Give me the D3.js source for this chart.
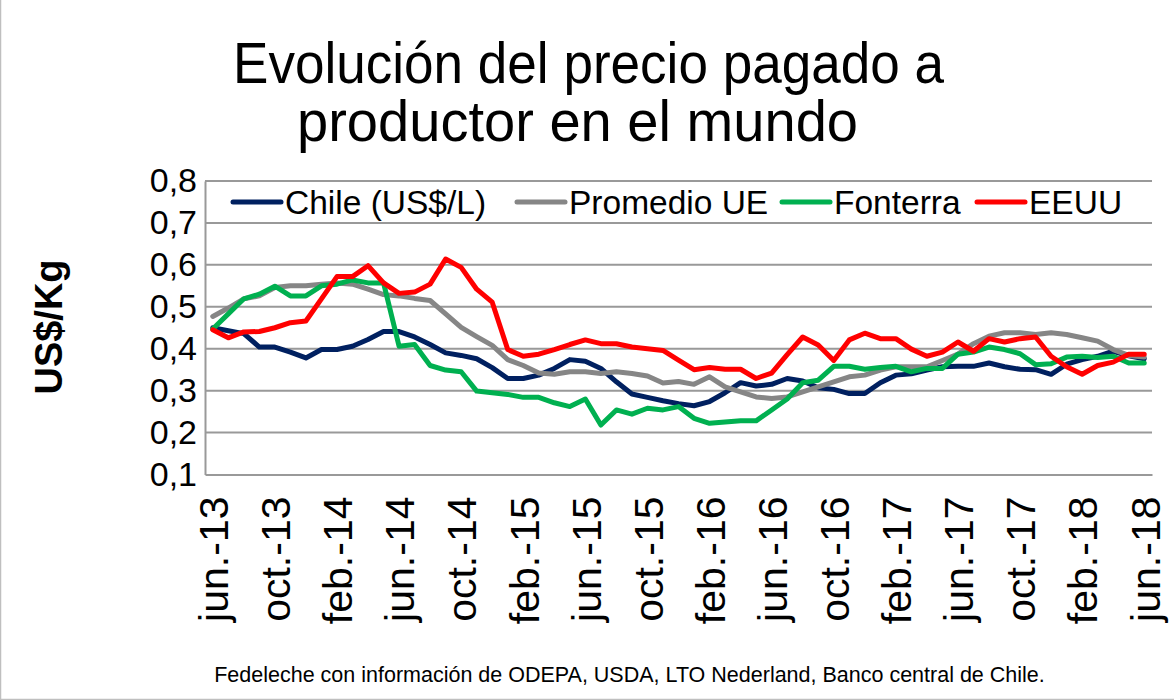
<!DOCTYPE html>
<html>
<head>
<meta charset="utf-8">
<script src="https://cdn.jsdelivr.net/npm/d3@7"></script>
<style>
  html, body { margin: 0; padding: 0; background: #fff; }
  svg { display: block; }
  text { font-family: "Liberation Sans", Arial, sans-serif; }
</style>
</head>
<body>
<svg id="chart" width="1174" height="700"></svg>
<script>
const months = ["jun.-13","jul.-13","ago.-13","sept.-13","oct.-13","nov.-13","dic.-13",
  "ene.-14","feb.-14","mar.-14","abr.-14","may.-14","jun.-14","jul.-14","ago.-14","sept.-14","oct.-14","nov.-14","dic.-14",
  "ene.-15","feb.-15","mar.-15","abr.-15","may.-15","jun.-15","jul.-15","ago.-15","sept.-15","oct.-15","nov.-15","dic.-15",
  "ene.-16","feb.-16","mar.-16","abr.-16","may.-16","jun.-16","jul.-16","ago.-16","sept.-16","oct.-16","nov.-16","dic.-16",
  "ene.-17","feb.-17","mar.-17","abr.-17","may.-17","jun.-17","jul.-17","ago.-17","sept.-17","oct.-17","nov.-17","dic.-17",
  "ene.-18","feb.-18","mar.-18","abr.-18","may.-18","jun.-18"];

const tickLabels = ["jun.-13","oct.-13","feb.-14","jun.-14","oct.-14","feb.-15","jun.-15","oct.-15",
  "feb.-16","jun.-16","oct.-16","feb.-17","jun.-17","oct.-17","feb.-18","jun.-18"];

const yTicks = [0.1,0.2,0.3,0.4,0.5,0.6,0.7,0.8];
const yTickLabels = ["0,1","0,2","0,3","0,4","0,5","0,6","0,7","0,8"];

const chile = [0.450,0.443,0.436,0.404,0.404,0.392,0.378,0.398,0.398,0.406,
  0.422,0.441,0.441,0.428,0.410,0.390,0.384,0.376,0.355,0.329,
  0.329,0.337,0.353,0.374,0.370,0.353,0.321,0.292,0.284,0.276,
  0.269,0.264,0.274,0.295,0.319,0.311,0.315,0.329,0.323,0.307,
  0.303,0.293,0.293,0.319,0.337,0.340,0.349,0.357,0.358,0.358,
  0.366,0.357,0.351,0.350,0.339,0.363,0.374,0.382,0.394,0.383,0.376];

const promedioUE = [0.477,0.497,0.519,0.526,0.546,0.550,0.550,0.554,0.557,0.554,
  0.542,0.529,0.526,0.520,0.515,0.483,0.451,0.429,0.408,0.374,
  0.360,0.342,0.339,0.345,0.345,0.341,0.345,0.341,0.335,0.318,
  0.322,0.315,0.333,0.309,0.297,0.285,0.281,0.285,0.297,0.309,
  0.321,0.333,0.337,0.349,0.357,0.357,0.357,0.372,0.387,0.412,
  0.430,0.438,0.438,0.434,0.438,0.434,0.426,0.418,0.398,0.384,0.380];

const fonterra = [0.447,0.483,0.519,0.530,0.549,0.526,0.526,0.550,0.554,0.564,
  0.557,0.557,0.406,0.410,0.360,0.349,0.345,0.299,0.295,0.291,
  0.284,0.284,0.271,0.262,0.280,0.218,0.254,0.244,0.258,0.254,
  0.262,0.234,0.222,0.225,0.228,0.228,0.254,0.280,0.319,0.325,
  0.358,0.358,0.351,0.355,0.358,0.345,0.353,0.353,0.387,0.392,
  0.404,0.398,0.388,0.362,0.364,0.380,0.382,0.379,0.382,0.366,0.366];

const eeuu = [0.445,0.426,0.440,0.441,0.450,0.462,0.466,0.519,0.572,0.572,
  0.598,0.557,0.532,0.535,0.554,0.614,0.594,0.542,0.511,0.398,
  0.382,0.387,0.398,0.410,0.421,0.412,0.412,0.404,0.400,0.396,
  0.373,0.350,0.355,0.351,0.351,0.329,0.342,0.386,0.428,0.409,
  0.372,0.421,0.437,0.424,0.424,0.399,0.382,0.392,0.416,0.394,
  0.424,0.416,0.424,0.428,0.382,0.357,0.339,0.360,0.368,0.387,0.387];

const seriesNames = ["Chile (US$/L)","Promedio UE","Fonterra","EEUU"];
const seriesValues = [chile, promedioUE, fonterra, eeuu];
const seriesColors = ["#002060","#868686","#00b050","#ff0000"];

const svg = d3.select("#chart");
const W = 1174, H = 700;
const plot = {left: 205, right: 1152, top: 181, bottom: 474.5};

// chart border
svg.append("rect").attr("x", 0.5).attr("y", -2).attr("width", W + 4).attr("height", H + 1.5)
  .attr("fill", "none").attr("stroke", "#bfbfbf").attr("stroke-width", 1.5);

const x = d3.scalePoint().domain(months).range([plot.left, plot.right]).padding(0.5);
const y = d3.scaleLinear().domain([0.1, 0.8]).range([plot.bottom, plot.top]);

// gridlines
svg.append("g").selectAll("line").data(yTicks.slice(1)).join("line")
  .attr("x1", plot.left).attr("x2", plot.right)
  .attr("y1", d => y(d)).attr("y2", d => y(d))
  .attr("stroke", "#999").attr("stroke-width", 2);

// y axis
const yAxis = d3.axisLeft(y).tickValues(yTicks)
  .tickFormat((d, i) => yTickLabels[i]).tickSize(0).tickPadding(8);
const gy = svg.append("g").attr("transform", `translate(${plot.left},0)`).call(yAxis);
gy.select(".domain").attr("stroke", "#999").attr("stroke-width", 2);
gy.selectAll("text").attr("font-size", 34).attr("fill", "#000")
  .attr("font-family", "'Liberation Sans', Arial, sans-serif");

// x axis
const xAxis = d3.axisBottom(x).tickValues(tickLabels).tickSize(0).tickPadding(0);
const gx = svg.append("g").attr("transform", `translate(0,${plot.bottom})`).call(xAxis);
gx.select(".domain").attr("stroke", "#999").attr("stroke-width", 2);
gx.selectAll("text")
  .attr("font-size", 41).attr("fill", "#000")
  .attr("font-family", "'Liberation Sans', Arial, sans-serif")
  .attr("text-anchor", "end")
  .attr("transform", "rotate(-90)")
  .attr("x", -22).attr("y", 0).attr("dy", "0.36em");

// lines
const line = d3.line().x((d, i) => x(months[i])).y(d => y(d));
svg.append("g").selectAll("path").data(seriesValues).join("path")
  .attr("d", d => line(d))
  .attr("fill", "none")
  .attr("stroke", (d, i) => seriesColors[i])
  .attr("stroke-width", 5)
  .attr("stroke-linejoin", "round")
  .attr("stroke-linecap", "round");

// legend
const legendX = [233, 517, 782, 977];
const lg = svg.append("g");
seriesNames.forEach((name, i) => {
  const g = lg.append("g").attr("transform", `translate(${legendX[i]},202)`);
  g.append("line").attr("x1", 0).attr("x2", 48).attr("y1", 0).attr("y2", 0)
    .attr("stroke", seriesColors[i]).attr("stroke-width", 5).attr("stroke-linecap", "round");
  g.append("text").attr("x", 52).attr("y", 12).attr("font-size", 33.5).attr("fill", "#000").text(name);
});

// title
svg.append("text").attr("x", 233).attr("y", 83).attr("font-size", 57)
  .attr("textLength", 711).attr("lengthAdjust", "spacingAndGlyphs")
  .attr("fill", "#000").text("Evolución del precio pagado a");
svg.append("text").attr("x", 297).attr("y", 141).attr("font-size", 57)
  .attr("textLength", 561).attr("lengthAdjust", "spacingAndGlyphs")
  .attr("fill", "#000").text("productor en el mundo");

// y title
svg.append("text")
  .attr("transform", "translate(62,327) rotate(-90)")
  .attr("text-anchor", "middle")
  .attr("font-size", 38).attr("font-weight", "bold").attr("fill", "#000")
  .text("US$/Kg");

// footer
svg.append("text").attr("x", 629.5).attr("y", 682).attr("text-anchor", "middle")
  .attr("font-size", 21.5).attr("fill", "#000")
  .text("Fedeleche con información de ODEPA, USDA, LTO Nederland, Banco central de Chile.");
</script>
</body>
</html>
